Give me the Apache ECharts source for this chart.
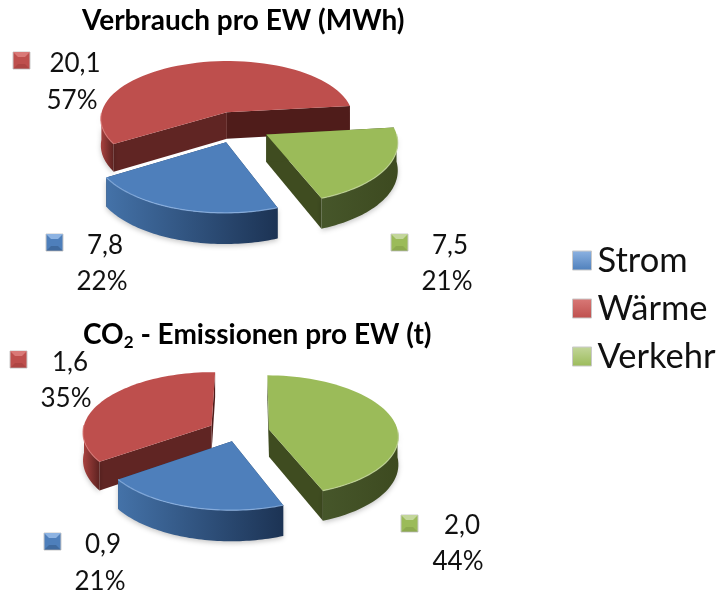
<!DOCTYPE html>
<html>
<head>
<meta charset="utf-8">
<style>html,body{margin:0;padding:0;background:#fff}#main{width:721px;height:594px}</style>
<script src="https://cdn.jsdelivr.net/npm/echarts@6/dist/echarts.min.js"></script>
</head>
<body>
<div id="main"></div>
<script>
// Reihenfolge im Kreis: Strom, Waerme, Verkehr
var categories = ['Strom', 'Wärme', 'Verkehr'];
var verbrauchValues = [7.8, 20.1, 7.5];
var verbrauchShares = [22, 57, 21];
var co2Values = [0.9, 1.6, 2.0];
var co2Shares = [21, 35, 44];

var palette = {
    'Strom': {top: '#4e7fbb', light: '#8db3e2', dark: '#1f3a5f', rim: ['#4472a8', '#1c3354'], faces: ['#24405f', '#1f3a5f']},
    'Wärme': {top: '#be4f4d', light: '#d97977', dark: '#8c2f2d', rim: ['#a8423f', '#5c2220'], faces: ['#602523', '#4f1c1a']},
    'Verkehr': {top: '#9bbb59', light: '#c3d69b', dark: '#6c8539', rim: ['#46562a', '#3d4a20'], faces: ['#3f4c20', '#3f4c20']}
};

// Lage der beiden Kreise, Pixel
var pies = [
    {
        values: verbrauchValues, shares: verbrauchShares, start: 69,
        cx: 237.5, cy: 126.5, rx: 128.5, ry: 59.6, persp: 0.1064, depth: 27,
        explode: [0.27, 0.258, 0.258],
        labels: [
            {mark: [46, 234], val: [105, 246], pct: [102, 282]},
            {mark: [13, 52], val: [75, 64], pct: [72, 101]},
            {mark: [391, 234], val: [450, 246], pct: [447, 282]}
        ]
    },
    {
        values: co2Values, shares: co2Shares, start: 69,
        cx: 238, cy: 432, rx: 129, ry: 60, persp: 0.1, depth: 27.5,
        explode: [0.16, 0.234, 0.245],
        labels: [
            {mark: [44, 533], val: [103, 545], pct: [100, 582]},
            {mark: [10, 351], val: [70, 363], pct: [66, 399]},
            {mark: [401, 515], val: [462, 526], pct: [458, 562]}
        ]
    }
];
var markSize = 17;
var labelFont = '26px Lato, sans-serif';

function project(pie, gx, gy, drop) {
    var w = 1 - pie.persp * gy;
    return [pie.cx + pie.rx * gx / w, pie.cy + pie.ry * gy / w + (drop ? pie.depth / w : 0)];
}

function vgrad(a, b) {
    return {type: 'linear', x: 0, y: 0, x2: 0, y2: 1, colorStops: [{offset: 0, color: a}, {offset: 1, color: b}]};
}

function bevelMark(x, y, col) {
    var s = markSize, b = 5;
    return [
        {type: 'rect', shape: {x: x, y: y, width: s, height: s}, style: {fill: col.top, stroke: '#c9c9c9', lineWidth: 1}},
        {type: 'polygon', shape: {points: [[x, y], [x + s, y], [x + s - b, y + b], [x + b, y + b]]}, style: {fill: col.light}},
        {type: 'polygon', shape: {points: [[x, y + s], [x + s, y + s], [x + s - b, y + s - b], [x + b, y + s - b]]}, style: {fill: col.dark, opacity: 0.3}}
    ];
}

function renderSlice(params, api) {
    var pie = pies[api.value(0)];
    var idx = params.seriesIndex === 0 ? 1 : params.seriesIndex === 1 ? 2 : 0;
    var col = palette[categories[idx]];
    var from = pie.start;
    for (var k = 0; k < idx; k++) from += pie.shares[k] * 3.6;
    var span = api.value(2) * 3.6;
    var mid = (from + span / 2) * Math.PI / 180;
    var ox = pie.explode[idx] * Math.cos(mid);
    var oy = pie.explode[idx] * Math.sin(mid);

    var arcTop = [], arcBottom = [], frontTop = [], frontBottom = [];
    for (var n = 0; n <= 60; n++) {
        var t = (from + span * n / 60) * Math.PI / 180;
        var gx = ox + Math.cos(t), gy = oy + Math.sin(t);
        var pTop = project(pie, gx, gy, false);
        var pBottom = project(pie, gx, gy, true);
        arcTop.push(pTop);
        arcBottom.push(pBottom);
        // nur der zum Betrachter zeigende Teil des Rands ist sichtbar
        if (Math.sin(t) >= -0.01) {
            frontTop.push(pTop);
            frontBottom.push(pBottom);
        }
    }
    var apexTop = project(pie, ox, oy, false);
    var apexBottom = project(pie, ox, oy, true);
    var last = arcTop.length - 1;

    var kids = [];
    kids.push({type: 'polygon', shape: {points: [apexTop, arcTop[last], arcBottom[last], apexBottom]}, style: {fill: col.faces[1]}});
    kids.push({type: 'polygon', shape: {points: [apexTop, arcTop[0], arcBottom[0], apexBottom]}, style: {fill: col.faces[0]}});
    if (frontTop.length > 1) {
        kids.push({
            type: 'polygon',
            shape: {points: frontTop.concat(frontBottom.slice().reverse())},
            style: {
                fill: {type: 'linear', x: 1, y: 0, x2: 0, y2: 0, colorStops: [{offset: 0, color: col.rim[1]}, {offset: 1, color: col.rim[0]}]},
                shadowBlur: 5, shadowColor: 'rgba(0,0,0,0.22)', shadowOffsetY: 2
            }
        });
    }
    kids.push({type: 'polygon', shape: {points: [apexTop].concat(arcTop)}, style: {fill: col.top}});
    if (frontTop.length > 1) {
        kids.push({type: 'polyline', shape: {points: frontTop}, style: {fill: 'none', stroke: col.light, lineWidth: 1.2, opacity: 0.8}});
    }

    var lab = pie.labels[idx];
    kids = kids.concat(bevelMark(lab.mark[0], lab.mark[1], col));
    kids.push({type: 'text', style: {text: String(api.value(1).toFixed(1)).replace('.', ','), x: lab.val[0], y: lab.val[1], font: labelFont, fill: '#111', align: 'center', verticalAlign: 'middle'}});
    kids.push({type: 'text', style: {text: api.value(2) + '%', x: lab.pct[0], y: lab.pct[1], font: labelFont, fill: '#111', align: 'center', verticalAlign: 'middle'}});
    return {type: 'group', children: kids};
}

// hinten zuerst zeichnen
var drawOrder = [1, 2, 0];
var chart = echarts.init(document.getElementById('main'), null, {renderer: 'canvas'});
chart.setOption({
    animation: false,
    backgroundColor: '#fff',
    title: [
        {
            text: 'Verbrauch pro EW (MWh)', left: 77, top: 2,
            textStyle: {fontFamily: 'Lato', fontWeight: 'bold', fontSize: 28, color: '#000'}
        },
        {
            text: '{b|CO}{s|2}{b| - Emissionen pro EW (t)}', left: 78, top: 314,
            textStyle: {
                rich: {
                    b: {fontFamily: 'Lato', fontWeight: 'bold', fontSize: 28, color: '#000'},
                    s: {fontFamily: 'Lato', fontWeight: 'bold', fontSize: 17, color: '#000', padding: [15, 0, 0, 0]}
                }
            }
        }
    ],
    legend: {
        orient: 'vertical', left: 567, top: 238, itemWidth: 19, itemHeight: 19, itemGap: 13,
        selectedMode: false,
        textStyle: {fontFamily: 'Lato', fontSize: 34.5, color: '#111', padding: [0, 0, 0, 1]},
        data: categories.map(function (name) {
            return {name: name, icon: 'rect', itemStyle: {color: vgrad(palette[name].light, palette[name].top), borderColor: '#c9c9c9', borderWidth: 1}};
        })
    },
    series: drawOrder.map(function (i) {
        return {
            type: 'custom',
            name: categories[i],
            coordinateSystem: 'none',
            silent: true,
            itemStyle: {color: palette[categories[i]].top},
            renderItem: renderSlice,
            data: [[0, verbrauchValues[i], verbrauchShares[i]], [1, co2Values[i], co2Shares[i]]]
        };
    })
});
</script>
</body>
</html>
